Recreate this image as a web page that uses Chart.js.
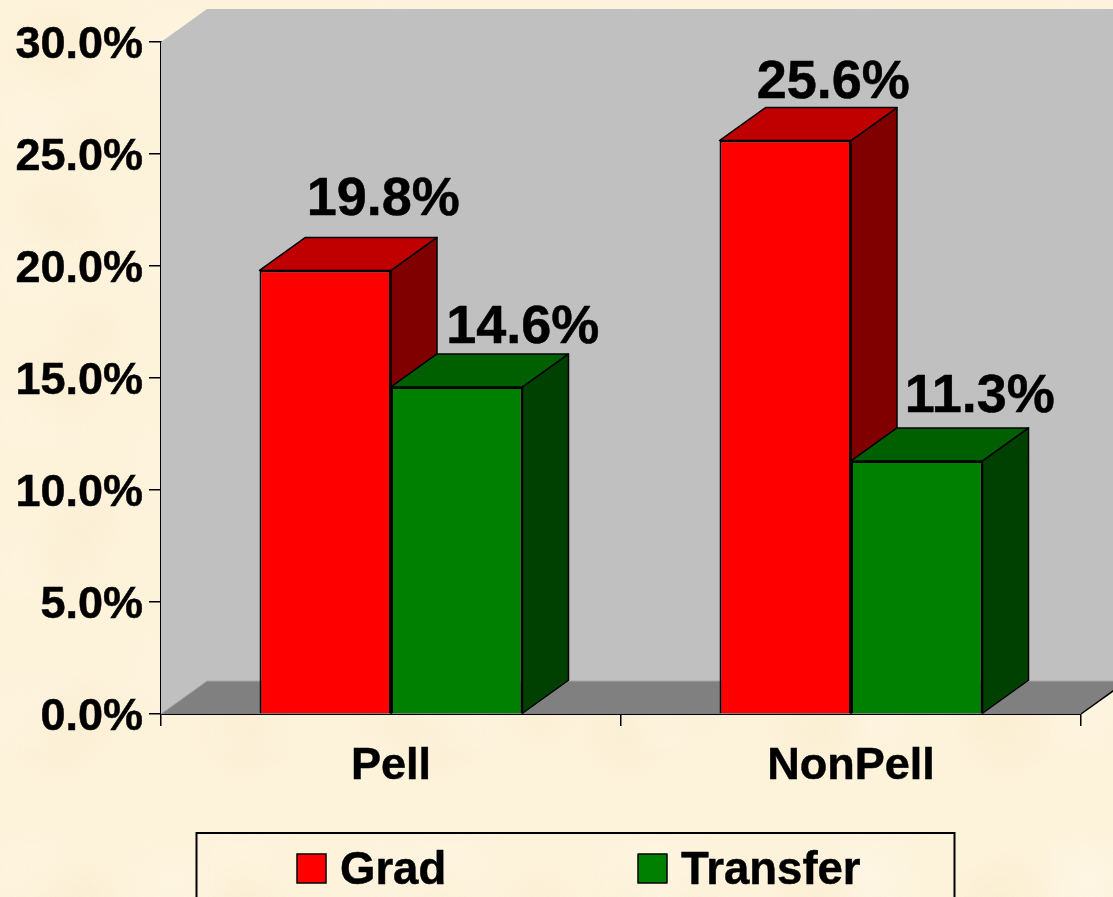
<!DOCTYPE html>
<html>
<head>
<meta charset="utf-8">
<title>Pell vs NonPell</title>
<script src="https://cdn.jsdelivr.net/npm/chart.js@4"></script>
<style>
html, body { margin: 0; padding: 0; overflow: hidden; }
body {
    width: 1113px;
    height: 897px;
    background-color: #fdf2da;
    background-image:
        radial-gradient(circle at 30% 30%, rgba(247,233,198,0.28), rgba(247,233,198,0) 30%),
        radial-gradient(circle at 75% 20%, rgba(255,248,232,0.45), rgba(255,248,232,0) 26%),
        radial-gradient(circle at 60% 75%, rgba(248,235,202,0.25), rgba(248,235,202,0) 24%),
        radial-gradient(circle at 15% 80%, rgba(255,247,230,0.45), rgba(255,247,230,0) 28%);
    background-size: 190px 170px, 230px 210px, 150px 190px, 210px 150px;
}
canvas { display: block; }
</style>
</head>
<body>
<canvas id="myChart" width="1113" height="897"></canvas>
<script>
var categories = ['Pell', 'NonPell'];
var gradValues = [19.8, 25.6];
var transferValues = [14.6, 11.3];
var tickLabels = ['0.0%', '5.0%', '10.0%', '15.0%', '20.0%', '25.0%', '30.0%'];

var FONT = '"Liberation Sans", Arial, sans-serif';
var DEPTH_X = 46;
var DEPTH_Y = 33;
var TEXT_STROKE = 0.5;

// x shift, gap above the bar top, per dataset then category
var labelShift = [[58, 55], [66, 44], [48, 43], [63, 49]];

function poly(ctx, points, fill, stroke, width){
    ctx.beginPath();
    points.forEach(function(p, i){
        if(i == 0) ctx.moveTo(p[0], p[1]);
        else ctx.lineTo(p[0], p[1]);
    });
    ctx.closePath();
    ctx.fillStyle = fill;
    ctx.fill();
    if(stroke){
        ctx.strokeStyle = stroke;
        ctx.lineWidth = width || 1;
        ctx.lineJoin = 'round';
        ctx.stroke();
    }
}

// fill plus a thin outline, the reference text is heavier than plain bold
function heavyText(ctx, text, x, y){
    ctx.fillStyle = '#000';
    ctx.strokeStyle = '#000';
    ctx.lineWidth = TEXT_STROKE;
    ctx.lineJoin = 'round';
    ctx.fillText(text, x, y);
    ctx.strokeText(text, x, y);
}

// back wall, floor and the top/side faces of the bars
var box3d = {
    id: 'box3d',
    afterUpdate: function(chart){
        // digits sit lower against the tick than canvas 'middle' puts them
        chart.scales.y.getLabelItems().forEach(function(item){
            item.textOffset += 4;
        });
    },
    beforeDatasetsDraw: function(chart){
        var ctx = chart.ctx;
        var a = chart.chartArea;
        ctx.save();
        poly(ctx, [[a.left, a.top], [a.left + DEPTH_X, a.top - DEPTH_Y], [a.right + DEPTH_X, a.top - DEPTH_Y],
            [a.right + DEPTH_X, a.bottom - DEPTH_Y], [a.right, a.bottom], [a.left, a.bottom]], '#c0c0c0');
        poly(ctx, [[a.left, a.bottom], [a.left + DEPTH_X, a.bottom - DEPTH_Y], [a.right + DEPTH_X, a.bottom - DEPTH_Y], [a.right, a.bottom]], '#808080');

        ctx.strokeStyle = '#a6a6a6';
        ctx.lineWidth = 1;
        ctx.beginPath();
        ctx.moveTo(a.left, a.bottom);
        ctx.lineTo(a.left + DEPTH_X, a.bottom - DEPTH_Y);
        ctx.lineTo(a.right + DEPTH_X, a.bottom - DEPTH_Y);
        ctx.stroke();

        ctx.strokeStyle = '#000';
        ctx.lineWidth = 1.5;
        ctx.beginPath();
        ctx.moveTo(a.right, a.bottom);
        ctx.lineTo(a.right + DEPTH_X, a.bottom - DEPTH_Y);
        ctx.stroke();

        categories.forEach(function(c, i){
            chart.data.datasets.forEach(function(ds, d){
                var bar = chart.getDatasetMeta(d).data[i];
                var l = bar.x - bar.width / 2;
                var r = bar.x + bar.width / 2;
                var t = bar.y;
                var b = bar.base;
                poly(ctx, [[r, t], [r + DEPTH_X, t - DEPTH_Y], [r + DEPTH_X, b - DEPTH_Y], [r, b]], ds.sideColor, '#000', 1.5);
                poly(ctx, [[l, t], [l + DEPTH_X, t - DEPTH_Y], [r + DEPTH_X, t - DEPTH_Y], [r, t]], ds.topColor, '#000', 1.5);
            });
        });
        ctx.restore();
    },
    afterDatasetsDraw: function(chart){
        var ctx = chart.ctx;
        ctx.save();
        ctx.font = 'bold 54px ' + FONT;
        ctx.textAlign = 'center';
        ctx.textBaseline = 'alphabetic';
        var n = 0;
        categories.forEach(function(c, i){
            chart.data.datasets.forEach(function(ds, d){
                var bar = chart.getDatasetMeta(d).data[i];
                var shift = labelShift[n++];
                heavyText(ctx, ds.data[i].toFixed(1) + '%', bar.x + shift[0], bar.y - shift[1]);
            });
        });
        ctx.restore();
    },
    afterDraw: function(chart){
        var ctx = chart.ctx;
        ctx.save();
        // legend box runs off the bottom of the page
        ctx.strokeStyle = '#000';
        ctx.lineWidth = 2;
        ctx.strokeRect(196.5, 833, 758, 100);
        ctx.font = 'bold 45.5px ' + FONT;
        ctx.textBaseline = 'alphabetic';
        var swatchX = [297, 638];
        chart.data.datasets.forEach(function(ds, d){
            ctx.fillStyle = ds.backgroundColor;
            ctx.fillRect(swatchX[d], 854, 29, 29);
            ctx.strokeStyle = '#000';
            ctx.lineWidth = 1.5;
            ctx.strokeRect(swatchX[d], 854, 29, 29);
            heavyText(ctx, ds.label, swatchX[d] + 43, 884);
        });
        ctx.restore();
    }
};

var canvas = document.getElementById('myChart').getContext('2d');
var chart = new Chart(canvas, {
    type: 'bar',
    data: {
        labels: categories,
        datasets: [{
            label: 'Grad',
            data: gradValues,
            backgroundColor: '#ff0000',
            sideColor: '#800000',
            topColor: '#c00000',
            borderColor: '#000',
            borderWidth: 2
        }, {
            label: 'Transfer',
            data: transferValues,
            backgroundColor: '#008000',
            sideColor: '#004000',
            topColor: '#006000',
            borderColor: '#000',
            borderWidth: 2
        }]
    },
    options: {
        responsive: false,
        animation: false,
        layout: { padding: { top: 42, right: 32, left: 0, bottom: 0 } },
        datasets: { bar: { categoryPercentage: 0.5717, barPercentage: 1 } },
        plugins: {
            legend: { display: false },
            tooltip: { enabled: false }
        },
        scales: {
            x: {
                afterFit: function(scale){ scale.height = 183; },
                grid: { drawOnChartArea: false, tickLength: 12, color: '#000', lineWidth: 1.5 },
                border: { color: '#000', width: 2 },
                ticks: {
                    color: '#000',
                    padding: 14,
                    maxRotation: 0,
                    autoSkip: false,
                    textStrokeColor: '#000',
                    textStrokeWidth: TEXT_STROKE,
                    font: { family: FONT, size: 45, weight: 'bold' }
                }
            },
            y: {
                min: 0,
                max: 30,
                afterFit: function(scale){ scale.width = 161; },
                grid: { drawOnChartArea: false, tickLength: 12, color: '#000', lineWidth: 1.5 },
                border: { color: '#000', width: 2 },
                ticks: {
                    color: '#000',
                    padding: 6,
                    stepSize: 5,
                    textStrokeColor: '#000',
                    textStrokeWidth: TEXT_STROKE,
                    font: { family: FONT, size: 45, weight: 'bold' },
                    callback: function(value, index){ return tickLabels[index]; }
                }
            }
        }
    },
    plugins: [box3d]
});
</script>
</body>
</html>
